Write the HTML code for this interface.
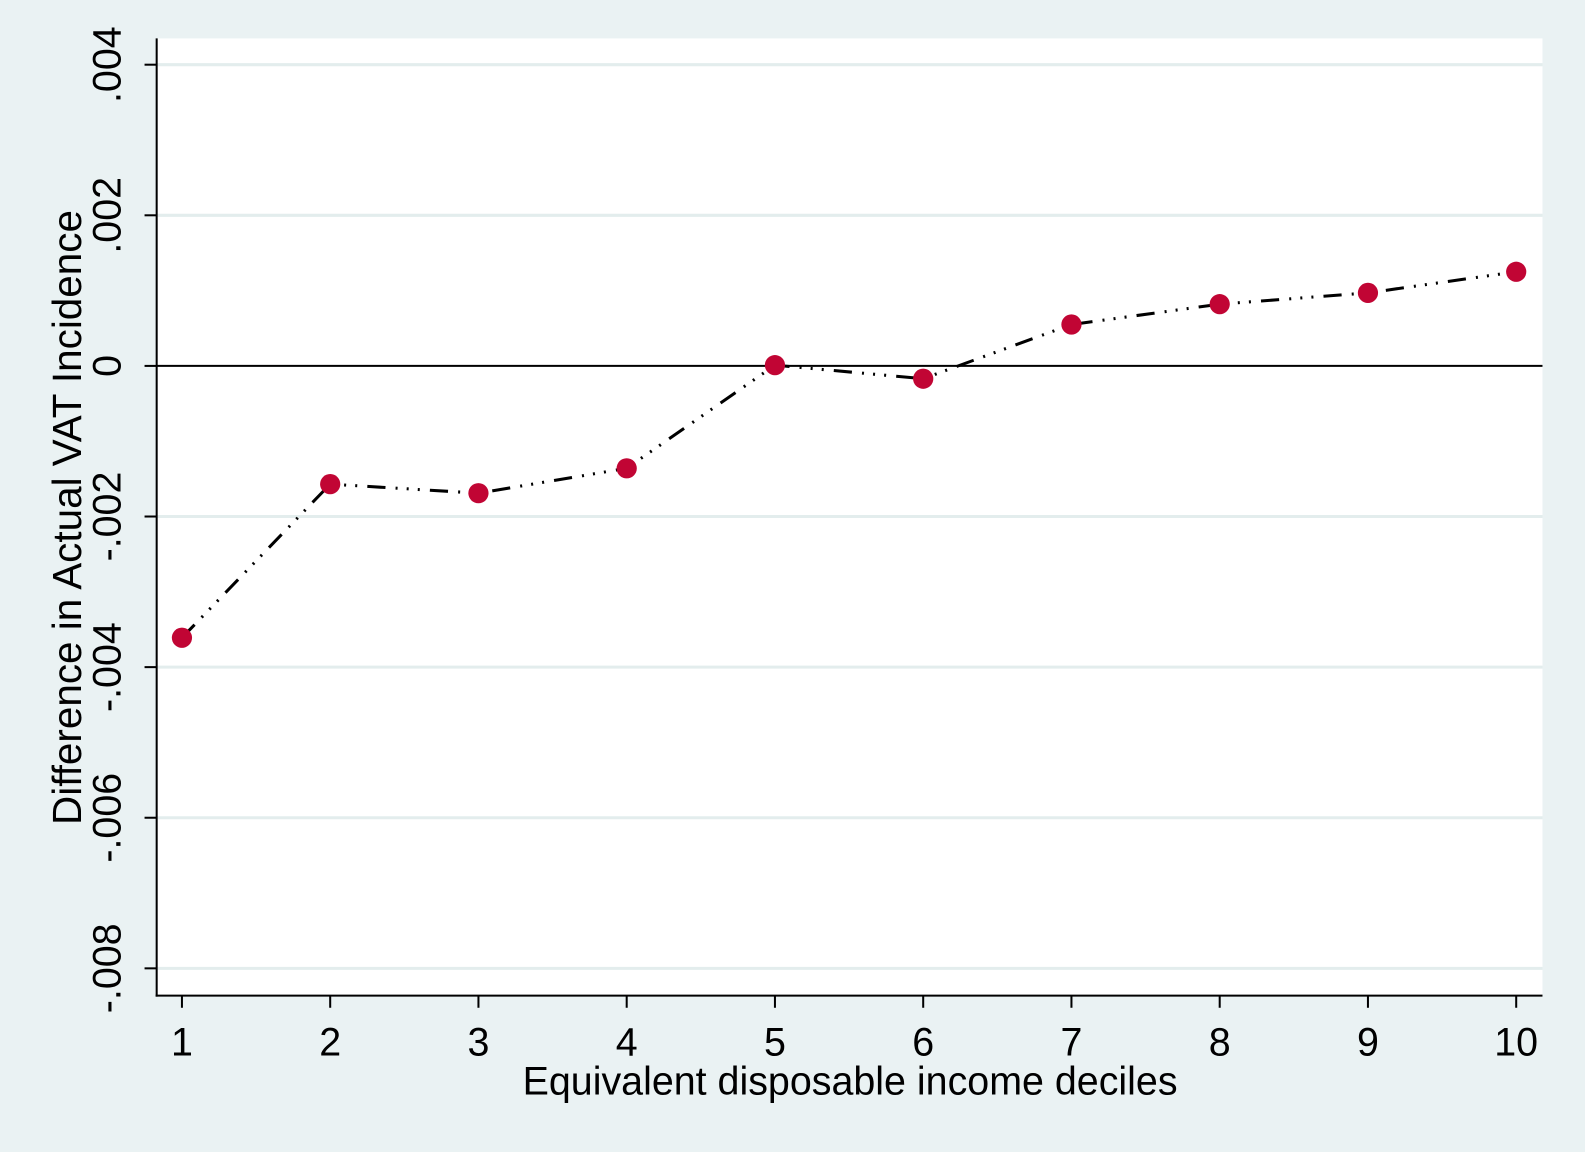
<!DOCTYPE html>
<html><head><meta charset="utf-8"><style>
html,body{margin:0;padding:0;background:#eaf2f3;}
svg{display:block;font-family:"Liberation Sans",sans-serif;}
</style></head><body>
<svg id="chart" width="1585" height="1152" viewBox="0 0 1585 1152" xmlns="http://www.w3.org/2000/svg">
<rect x="0" y="0" width="1585" height="1152" fill="#eaf2f3"/>
<g transform="scale(1.0108)">
<rect x="155" y="38" width="1371" height="947" fill="#ffffff"/>
<g id="grid"></g>
<g id="axes"></g>
<g id="series"></g>
<text transform="translate(80,512) rotate(-90)" text-anchor="middle" font-size="40" fill="#000">Difference in Actual VAT Incidence</text>
<text x="841" y="1083" text-anchor="middle" font-size="39" fill="#000">Equivalent disposable income deciles</text>
</g>
</svg>
<script>
const categories = [1,2,3,4,5,6,7,8,9,10];
const values = [-0.00361,-0.00157,-0.00169,-0.00136,0.00001,-0.00017,0.00055,0.00082,0.00097,0.00125];
const yTicks = [0.004,0.002,0,-0.002,-0.004,-0.006,-0.008];
const yTickLabels = [".004",".002","0","-.002","-.004","-.006","-.008"];
const NS="http://www.w3.org/2000/svg";
const xs = v => 180 + (v-1)*(1500-180)/9;
const ys = v => 362 - v*(149/0.002);
function mk(tag, attrs, parent){const e=document.createElementNS(NS,tag);for(const k in attrs)e.setAttribute(k,attrs[k]);parent.appendChild(e);return e;}
const grid=document.getElementById('grid'), axes=document.getElementById('axes'), series=document.getElementById('series');
yTicks.forEach((t,i)=>{
  const y=ys(t);
  if(t!==0){const g=mk('line',{x1:156,x2:1526,y1:y,y2:y,stroke:'#e3eded','stroke-width':3},grid);
  
  }
  const tk=mk('line',{x1:143,x2:155,y1:y,y2:y,stroke:'#000','stroke-width':2},axes);
  
  
  const tx=mk('text',{transform:`translate(119,${y}) rotate(-90)`,'text-anchor':'middle','font-size':39,fill:'#000'},axes);
  tx.textContent=yTickLabels[i];
  
  
});
const zl=mk('line',{x1:155,x2:1526,y1:ys(0),y2:ys(0),stroke:'#000','stroke-width':2},grid);


const ya=mk('line',{x1:155,x2:155,y1:38,y2:986,stroke:'#000','stroke-width':2},axes);


const xa=mk('line',{x1:154,x2:1526,y1:985,y2:985,stroke:'#000','stroke-width':2},axes);


categories.forEach(c=>{
  const x=xs(c);
  const tk=mk('line',{x1:x,x2:x,y1:985,y2:997,stroke:'#000','stroke-width':2},axes);
  
  
  const tx=mk('text',{x:x,y:1044,'text-anchor':'middle','font-size':39,fill:'#000'},axes);
  tx.textContent=String(c);
  
  
});
const pts=categories.map((c,i)=>xs(c)+','+ys(values[i])).join(' ');
const pl=mk('polyline',{points:pts,fill:'none',stroke:'#000','stroke-width':3,'stroke-dasharray':'18 10 2 9 2 9 2 10'},series);


categories.forEach((c,i)=>{
  const p=mk('circle',{cx:xs(c),cy:ys(values[i]),r:10,fill:'#c10534'},series);
  
  
});
</script>
</body></html>
